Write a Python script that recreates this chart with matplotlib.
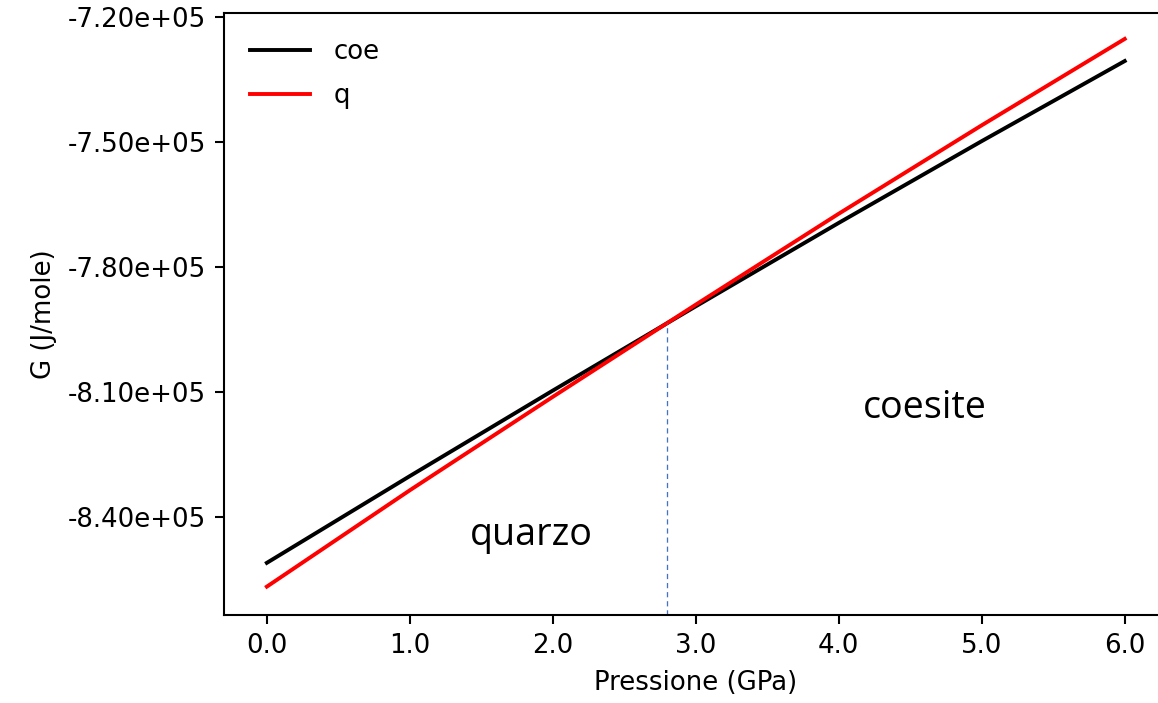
#   Energia libera di Gibbs: quarzo - coesite
import matplotlib
matplotlib.use("Agg")
from matplotlib import pyplot as plt
from matplotlib.ticker import FormatStrFormatter

pressione = [0.0, 1.0, 2.0, 3.0, 4.0, 5.0, 6.0]
g_coe = [-850900, -830100, -809600, -789400, -769400, -749800, -730600]
g_q = [-856600, -833500, -811100, -789000, -767200, -746000, -725300]

p_trans = 2.8
g_trans = -793400

plt.rcParams['axes.unicode_minus'] = False

dpi = 187.2
fig = plt.figure(figsize=(1158 / dpi, 703 / dpi), dpi=dpi)
ax = fig.add_axes([0.1934, 0.1252, 0.8149, 0.8568])

ax.plot(pressione, g_coe, color='k', label='coe')
ax.plot(pressione, g_q, color='r', label='q')

# linea di transizione
ax.plot([p_trans, p_trans], [-863400, g_trans], color='#4472c4',
        linestyle='--', linewidth=0.5, dashes=(4, 3))

ax.text(1.85, -844200, 'quarzo', fontsize=14.5, family='Open Sans',
        ha='center', va='center')
ax.text(4.60, -813800, 'coesite', fontsize=14.5, family='Open Sans',
        ha='center', va='center')

ax.set_xlim(-0.3, 6.3)
ax.set_ylim(-863400, -719000)
ax.set_xticks([0, 1, 2, 3, 4, 5, 6])
ax.set_yticks([-840000, -810000, -780000, -750000, -720000])
ax.xaxis.set_major_formatter(FormatStrFormatter('%.1f'))
ax.yaxis.set_major_formatter(FormatStrFormatter('%.2e'))

ax.set_xlabel('Pressione (GPa)')
ax.set_ylabel('G (J/mole)')
ax.legend(loc='upper left', frameon=False, handlelength=2.3,
          handletextpad=0.9, labelspacing=0.7, borderaxespad=0.6)

fig.savefig('out.png', dpi=dpi)
